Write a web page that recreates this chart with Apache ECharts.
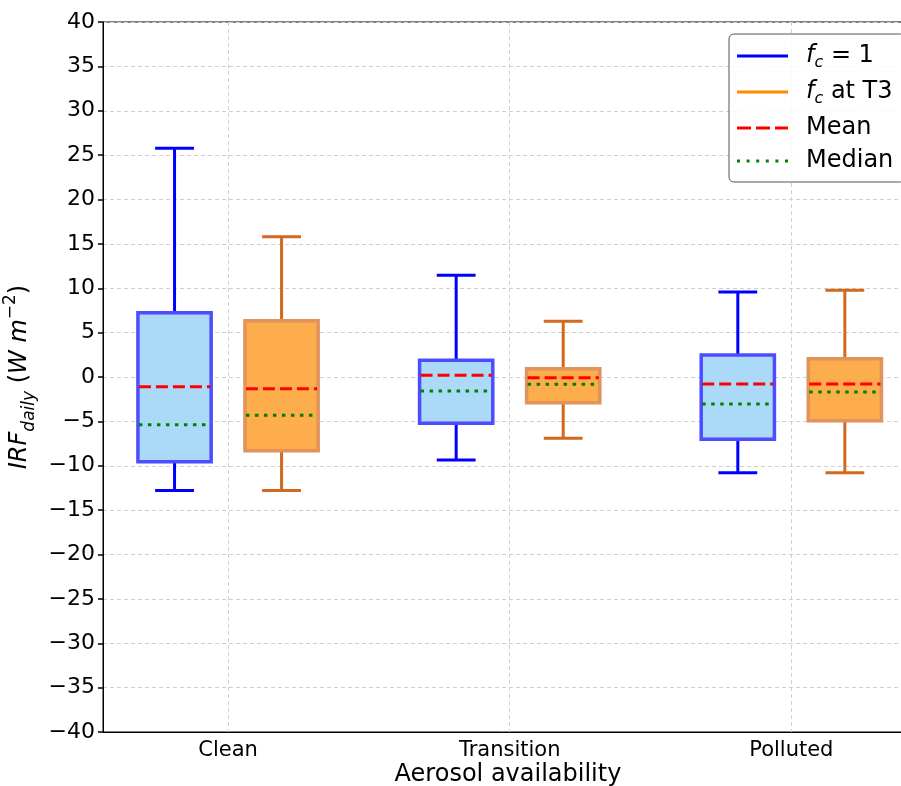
<!DOCTYPE html>
<html>
<head>
<meta charset="utf-8">
<script src="https://cdn.jsdelivr.net/npm/echarts@6/dist/echarts.min.js"></script>
<style>
html,body{margin:0;padding:0;background:#fff;}
#chart{width:901px;height:786px;}
</style>
</head>
<body>
<div id="chart"></div>
<script>
// ---- data ----
const categories = ['Clean', 'Transition', 'Polluted'];
const yMin = -40, yMax = 40, yStep = 5;

// f_c = 1 (blue)
const fc1Low    = [-12.8, -9.35, -10.8];
const fc1Q1     = [-9.54, -5.2, -7.0];
const fc1Q3     = [7.25, 1.9, 2.48];
const fc1High   = [25.77, 11.46, 9.58];
const fc1Mean   = [-1.09, 0.19, -0.79];
const fc1Median = [-5.37, -1.58, -3.04];

// f_c at T3 (orange)
const t3Low    = [-12.8, -6.9, -10.8];
const t3Q1     = [-8.3, -2.9, -4.92];
const t3Q3     = [6.35, 0.94, 2.06];
const t3High   = [15.8, 6.27, 9.77];
const t3Mean   = [-1.31, -0.08, -0.79];
const t3Median = [-4.32, -0.83, -1.69];

// ---- layout constants ----
const OFF = 0.19, BOXW = 0.26, CAPW = 0.138;

const fc1Boxes = categories.map((c, i) => [i + 1 - OFF, fc1Low[i], fc1Q1[i], fc1Q3[i], fc1High[i]]);
const t3Boxes  = categories.map((c, i) => [i + 1 + OFF, t3Low[i], t3Q1[i], t3Q3[i], t3High[i]]);
const meanData = categories.map((c, i) => [i + 1 - OFF, fc1Mean[i]]).concat(categories.map((c, i) => [i + 1 + OFF, t3Mean[i]]));
const medianData = categories.map((c, i) => [i + 1 - OFF, fc1Median[i]]).concat(categories.map((c, i) => [i + 1 + OFF, t3Median[i]]));

function boxRenderer(fill, edge, whisker) {
  return function (params, api) {
    const x = api.value(0);
    const pLow = api.coord([x, api.value(1)]);
    const pQ1 = api.coord([x, api.value(2)]);
    const pQ3 = api.coord([x, api.value(3)]);
    const pHigh = api.coord([x, api.value(4)]);
    const w = api.size([BOXW, 0])[0];
    const cw = api.size([CAPW, 0])[0];
    const cx = pLow[0];
    const ls = { stroke: whisker, lineWidth: 3, fill: null };
    return {
      type: 'group',
      children: [
        { type: 'line', shape: { x1: cx, y1: pQ3[1], x2: cx, y2: pHigh[1] }, style: ls },
        { type: 'line', shape: { x1: cx, y1: pQ1[1], x2: cx, y2: pLow[1] }, style: ls },
        { type: 'line', shape: { x1: cx - cw / 2, y1: pHigh[1], x2: cx + cw / 2, y2: pHigh[1] }, style: ls },
        { type: 'line', shape: { x1: cx - cw / 2, y1: pLow[1], x2: cx + cw / 2, y2: pLow[1] }, style: ls },
        { type: 'rect', shape: { x: cx - w / 2, y: pQ3[1], width: w, height: pQ1[1] - pQ3[1] },
          style: { fill: fill, stroke: edge, lineWidth: 3.5 } }
      ]
    };
  };
}

function segRenderer(color, dash) {
  return function (params, api) {
    const p = api.coord([api.value(0), api.value(1)]);
    const w = api.size([BOXW, 0])[0];
    return {
      type: 'line',
      shape: { x1: p[0] - w / 2 + 1, y1: p[1], x2: p[0] + w / 2 - 1, y2: p[1] },
      style: { stroke: color, lineWidth: 3, lineDash: dash, fill: null }
    };
  };
}

const FONT = 'DejaVu Sans';
const legendLabels = {
  'fc1': '{sp|}{it|f}{sub|c}{n| = 1}',
  'fcT3': '{sp|}{it|f}{sub|c}{n| at T3}',
  'Mean': '{sp|}{n|Mean}',
  'Median': '{sp|}{n|Median}'
};

const chart = echarts.init(document.getElementById('chart'), null, { renderer: 'canvas' });
chart.setOption({
  animation: false,
  backgroundColor: '#ffffff',
  textStyle: { fontFamily: FONT },
  grid: { left: 103, top: 22, right: -12, bottom: 54, outerBoundsMode: 'none', containLabel: false,
    show: true, borderColor: '#000', borderWidth: 1, backgroundColor: 'transparent' },
  xAxis: {
    type: 'value', min: 0.556, max: 3.432,
    name: 'Aerosol availability', nameLocation: 'middle', nameGap: 31, nameMoveOverlap: false,
    nameTextStyle: { fontSize: 24, color: '#000', fontFamily: FONT, verticalAlign: 'top' },
    axisLine: { show: true, onZero: false, lineStyle: { color: '#000', width: 1 } },
    axisTick: { show: false, customValues: [1, 2, 3] },
    axisLabel: { customValues: [1, 2, 3], fontSize: 21, color: '#000', margin: 8, fontFamily: FONT,
      formatter: v => categories[Math.round(v) - 1] },
    splitLine: { show: true, lineStyle: { color: '#cfcfcf', width: 1, type: [4, 3] } }
  },
  yAxis: {
    type: 'value', min: yMin, max: yMax, interval: yStep,
    name: '{it|IRF}{sub|daily}{n| (}{it|W m}{sup|−2}{n|)}',
    nameLocation: 'middle', nameGap: 64, nameRotate: 90,
    nameTextStyle: {
      color: '#000',
      rich: {
        it: { fontSize: 24, fontStyle: 'italic', fontFamily: FONT, color: '#000', lineHeight: 36, verticalAlign: 'middle' },
        n: { fontSize: 24, fontFamily: FONT, color: '#000', lineHeight: 36, verticalAlign: 'middle' },
        sub: { fontSize: 17, fontStyle: 'italic', fontFamily: FONT, color: '#000', lineHeight: 36, verticalAlign: 'bottom' },
        sup: { fontSize: 17, fontFamily: FONT, color: '#000', lineHeight: 36, verticalAlign: 'top' }
      }
    },
    axisLine: { show: true, onZero: false, lineStyle: { color: '#000', width: 1 } },
    axisTick: { show: true, inside: false, length: 5, lineStyle: { color: '#000', width: 1.5 } },
    axisLabel: { fontSize: 22, color: '#000', margin: 8, fontFamily: FONT,
      formatter: v => (v < 0 ? '\u2212' + Math.abs(v) : String(v)) },
    splitLine: { show: true, lineStyle: { color: '#cfcfcf', width: 1, type: [4, 3] } }
  },
  legend: {
    orient: 'vertical', left: 729, top: 34,
    padding: [10, 12, 9, 8], itemGap: 9,
    itemWidth: 51, itemHeight: 3,
    backgroundColor: 'rgba(255,255,255,0.85)', borderColor: '#555', borderWidth: 1, borderRadius: 5,
    data: [
      { name: 'fc1', icon: 'path://M0,0h51v3h-51z' },
      { name: 'fcT3', icon: 'path://M0,0h51v3h-51z' },
      { name: 'Mean', icon: 'path://M0,0h14v3h-14zM19,0h14v3h-14zM38,0h13v3h-13z' },
      { name: 'Median', icon: 'path://M0,0h3v3h-3zM9.6,0h3v3h-3zM19.2,0h3v3h-3zM28.8,0h3v3h-3zM38.4,0h3v3h-3zM48,0h3v3h-3z' }
    ],
    formatter: name => legendLabels[name],
    textStyle: {
      color: '#000', fontSize: 24, fontFamily: FONT,
      rich: {
        sp: { width: 13, lineHeight: 30 },
        it: { fontSize: 24, fontStyle: 'italic', fontFamily: FONT, color: '#000', lineHeight: 30, verticalAlign: 'middle' },
        n: { fontSize: 24, fontFamily: FONT, color: '#000', lineHeight: 30, verticalAlign: 'middle' },
        sub: { fontSize: 16, fontStyle: 'italic', fontFamily: FONT, color: '#000', lineHeight: 30, verticalAlign: 'bottom' }
      }
    },
    selectedMode: false
  },
  series: [
    { name: 'fc1', type: 'custom', data: fc1Boxes, encode: { x: 0, y: [1, 2, 3, 4] },
      itemStyle: { color: '#0000ff' }, renderItem: boxRenderer('#abd9f8', '#4d4dff', '#0000ff'), z: 2 },
    { name: 'fcT3', type: 'custom', data: t3Boxes, encode: { x: 0, y: [1, 2, 3, 4] },
      itemStyle: { color: '#ff8c00' }, renderItem: boxRenderer('#fdad4b', '#e0935a', '#d2691e'), z: 2 },
    { name: 'Mean', type: 'custom', data: meanData, encode: { x: 0, y: 1 },
      itemStyle: { color: '#ff0000' }, renderItem: segRenderer('#ff0000', [12, 5]), z: 3 },
    { name: 'Median', type: 'custom', data: medianData, encode: { x: 0, y: 1 },
      itemStyle: { color: '#008000' }, renderItem: segRenderer('#008000', [3.5, 5.5]), z: 3 }
  ]
});
</script>
</body>
</html>
